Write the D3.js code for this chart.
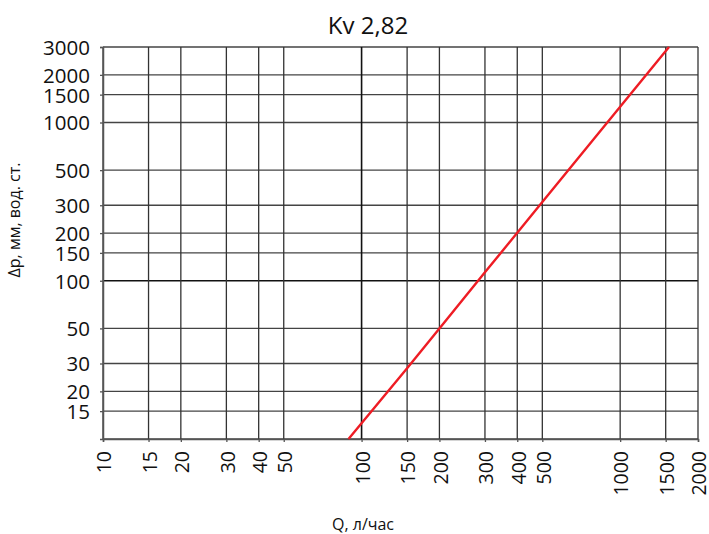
<!DOCTYPE html>
<html><head><meta charset="utf-8">
<script src="https://cdn.jsdelivr.net/npm/d3@7"></script>
<style>body{margin:0;background:#fff}svg{display:block}text{font-family:"Open Sans",sans-serif;fill:#111}</style>
</head><body>
<script>
const title = "Kv 2,82";
const xTicks = [10,15,20,30,40,50,100,150,200,300,400,500,1000,1500,2000];
const yTicks = [10,15,20,30,50,100,150,200,300,500,1000,1500,2000,3000];
const yLabels = [15,20,30,50,100,150,200,300,500,1000,1500,2000,3000];
const flowQ = [89,150,200,300,400,500,1000,1545];
const dropP = [10,28,50,113,201,314,1257,3000];
const xTitle = "Q, л/час";
const yTitle = "Δp, мм, вод. ст.";

const W=709,H=534;
const svg=d3.select("body").append("svg").attr("width",W).attr("height",H);
const x=d3.scaleLog().domain([10,2000]).range([103,698]);
const y=d3.scaleLog().domain([10,3000]).range([439,47]);

// grid
svg.append("g").selectAll("line").data(yTicks).join("line")
 .attr("x1",x(10)).attr("x2",x(2000)).attr("y1",d=>y(d)).attr("y2",d=>y(d))
 .attr("stroke",d=>d===100?"#111":"#444").attr("stroke-width",d=>d===100?1.6:1.3);
svg.append("g").selectAll("line").data(xTicks).join("line")
 .attr("y1",y(10)).attr("y2",y(3000)).attr("x1",d=>x(d)).attr("x2",d=>x(d))
 .attr("stroke",d=>d===100?"#111":"#333").attr("stroke-width",d=>d===100?1.6:1.3);

// axes
const xa=d3.axisBottom(x).tickValues(xTicks).tickSize(3).tickFormat(d3.format("d"));
const gx=svg.append("g").attr("transform",`translate(0,${y(10)})`).call(xa);
gx.select(".domain").attr("stroke","#555").attr("stroke-width",1.5);
gx.selectAll(".tick line").attr("stroke","#555").attr("stroke-width",1.3);
gx.selectAll(".tick text").attr("font-size",19.5).attr("fill","#111")
 .attr("transform","rotate(-90)").attr("text-anchor","end")
 .attr("x",-12).attr("y",1).attr("dy","0.35em");

const ya=d3.axisLeft(y).tickValues(yLabels).tickSize(3).tickFormat(d3.format("d"));
const gy=svg.append("g").attr("transform",`translate(${x(10)},0)`).call(ya);
gy.select(".domain").attr("stroke","#555").attr("stroke-width",1.5);
gy.selectAll(".tick line").attr("stroke","#555").attr("stroke-width",1.3);
gy.selectAll(".tick text").attr("font-size",20.5).attr("fill","#111").attr("x",-13).attr("dy","0.36em");

// line
svg.append("path").datum(flowQ.map((q,i)=>[q,dropP[i]]))
 .attr("d",d3.line().x(d=>x(d[0])).y(d=>y(d[1])))
 .attr("fill","none").attr("stroke","#ee1c24").attr("stroke-width",2.4);

svg.append("text").attr("x",368).attr("y",34).attr("text-anchor","middle").attr("font-size",24).text(title);
svg.append("text").attr("x",363).attr("y",530).attr("text-anchor","middle").attr("font-size",16).text(xTitle);
svg.append("text").attr("transform","translate(20,220) rotate(-90)").attr("text-anchor","middle").attr("font-size",16).text(yTitle);
</script>
</body></html>
